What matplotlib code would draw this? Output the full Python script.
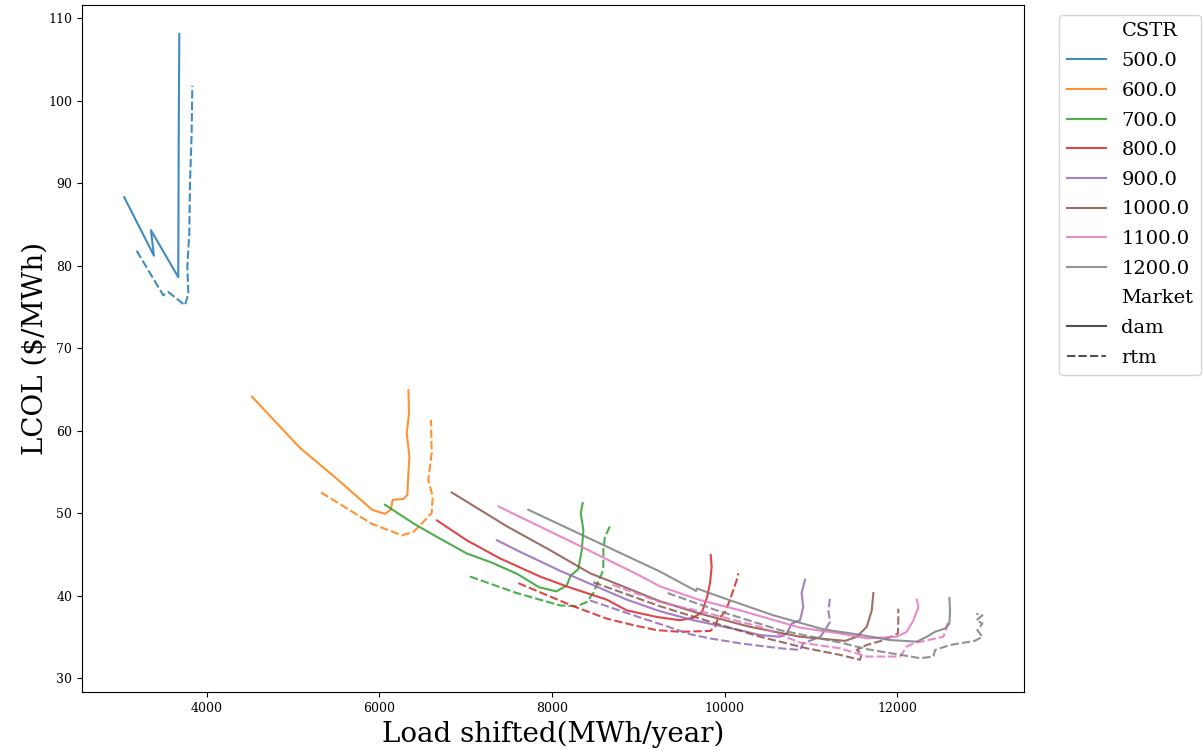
import matplotlib
matplotlib.use('Agg')
import matplotlib.pyplot as plt
from matplotlib.lines import Line2D

plt.rcParams['font.family'] = 'DejaVu Serif'

cstr = [500.0, 600.0, 700.0, 800.0, 900.0, 1000.0, 1100.0, 1200.0]
colors = ['#1f77b4', '#ff7f0e', '#2ca02c', '#d62728', '#9467bd', '#8c564b', '#e377c2', '#7f7f7f']

# day-ahead market (dam)
x_500_dam = [3040, 3385, 3350, 3667, 3672, 3679]
y_500_dam = [88.3, 81.2, 84.3, 78.6, 95.0, 108.1]
x_600_dam = [4522, 5078, 5500, 5913, 6064, 6130, 6153, 6277, 6323, 6335, 6347, 6316, 6342, 6335]
y_600_dam = [64.1, 57.9, 54.2, 50.4, 49.9, 50.4, 51.6, 51.7, 52.2, 54.8, 56.8, 59.7, 62.1, 64.9]
x_700_dam = [6064, 6400, 6650, 7011, 7300, 7600, 7850, 8050, 8170, 8215, 8305, 8345, 8364, 8333, 8356]
y_700_dam = [51.0, 48.7, 47.2, 45.1, 44.0, 42.6, 41.0, 40.5, 41.2, 42.4, 43.2, 45.5, 47.9, 50.0, 51.2]
x_800_dam = [6667, 7011, 7397, 7861, 8171, 8634, 8866, 9214, 9484, 9638, 9740, 9800, 9832, 9851, 9840]
y_800_dam = [49.1, 46.7, 44.5, 42.3, 41.1, 39.5, 38.2, 37.4, 37.0, 37.3, 38.0, 39.9, 41.5, 43.5, 44.9]
x_900_dam = [7362, 7629, 8093, 8557, 8866, 9250, 9638, 10180, 10412, 10644, 10721, 10780, 10875, 10913, 10894, 10933]
y_900_dam = [46.7, 45.3, 43.0, 40.9, 39.5, 38.1, 37.0, 35.8, 35.2, 35.0, 35.4, 36.6, 37.0, 38.6, 40.3, 41.9]
x_1000_dam = [6837, 7475, 7977, 8441, 8634, 9252, 9716, 10296, 10875, 11400, 11533, 11649, 11707, 11726]
y_1000_dam = [52.5, 48.4, 45.5, 42.7, 41.9, 39.3, 37.8, 36.2, 35.0, 34.5, 35.0, 36.2, 38.2, 40.3]
x_1100_dam = [7378, 8247, 9020, 9252, 9700, 10180, 10875, 11339, 11649, 11996, 12112, 12190, 12248, 12229]
y_1100_dam = [50.8, 46.4, 42.4, 41.1, 39.5, 38.2, 36.1, 35.4, 34.8, 35.0, 35.6, 37.0, 38.6, 39.5]
x_1200_dam = [7725, 9252, 9670, 9680, 9987, 10566, 11146, 11533, 11919, 12229, 12345, 12441, 12557, 12607, 12615, 12607]
y_1200_dam = [50.4, 42.9, 40.55, 40.85, 39.7, 37.6, 35.9, 35.3, 34.6, 34.4, 35.0, 35.6, 36.0, 36.6, 38.2, 39.7]

# real-time market (rtm)
x_500_rtm = [3185, 3493, 3551, 3745, 3784, 3772, 3795, 3803, 3822, 3830]
y_500_rtm = [81.8, 76.4, 76.8, 75.2, 76.6, 79.9, 83.9, 90.0, 96.0, 101.8]
x_600_rtm = [5322, 5910, 6258, 6392, 6470, 6605, 6617, 6566, 6605, 6597]
y_600_rtm = [52.5, 48.7, 47.3, 47.7, 48.5, 50.0, 52.0, 54.0, 57.3, 61.3]
x_700_rtm = [7049, 7591, 8093, 8286, 8402, 8479, 8595, 8595, 8614, 8672]
y_700_rtm = [42.3, 40.3, 38.8, 38.7, 39.2, 40.3, 43.1, 45.5, 47.1, 48.4]
x_800_rtm = [7609, 8247, 8634, 8944, 9214, 9484, 9832, 9890, 9916, 10006, 10064, 10103, 10142, 10160]
y_800_rtm = [41.5, 38.7, 37.2, 36.4, 35.8, 35.6, 35.7, 36.2, 37.0, 38.0, 39.5, 40.7, 41.9, 42.7]
x_900_rtm = [8440, 8750, 9058, 9350, 9600, 9832, 10180, 10644, 10875, 10913, 11110, 11165, 11223, 11204, 11223]
y_900_rtm = [39.4, 38.3, 37.2, 36.2, 35.3, 34.8, 34.2, 33.6, 33.4, 34.2, 35.0, 35.8, 36.8, 38.2, 39.7]
x_1000_rtm = [8479, 9252, 9900, 10412, 10953, 11339, 11571, 11590, 11533, 11649, 11850, 12010, 12015, 12015]
y_1000_rtm = [41.6, 38.7, 36.6, 35.0, 33.6, 32.8, 32.2, 32.9, 33.4, 34.0, 34.6, 35.4, 37.0, 38.4]
x_1100_rtm = [8700, 9252, 9754, 10412, 10875, 11339, 11649, 12035, 12112, 12190, 12538, 12577, 12597]
y_1100_rtm = [41.3, 39.2, 38.0, 36.2, 34.3, 33.6, 32.6, 32.6, 33.8, 34.2, 35.0, 36.2, 37.0]
x_1200_rtm = [9340, 9909, 10644, 11339, 11649, 12268, 12422, 12441, 12615, 12900, 12990, 12930, 12990, 12920, 12990, 12920]
y_1200_rtm = [40.3, 38.2, 35.8, 34.3, 33.5, 32.4, 32.6, 33.4, 34.0, 34.5, 35.0, 35.8, 36.6, 37.0, 37.6, 37.8]

dam_x = [x_500_dam, x_600_dam, x_700_dam, x_800_dam, x_900_dam, x_1000_dam, x_1100_dam, x_1200_dam]
dam_y = [y_500_dam, y_600_dam, y_700_dam, y_800_dam, y_900_dam, y_1000_dam, y_1100_dam, y_1200_dam]
rtm_x = [x_500_rtm, x_600_rtm, x_700_rtm, x_800_rtm, x_900_rtm, x_1000_rtm, x_1100_rtm, x_1200_rtm]
rtm_y = [y_500_rtm, y_600_rtm, y_700_rtm, y_800_rtm, y_900_rtm, y_1000_rtm, y_1100_rtm, y_1200_rtm]

fig = plt.figure(figsize=(12.03, 7.5), dpi=100)
ax = fig.add_axes([82 / 1203, 58 / 750, 942 / 1203, 687 / 750])

alpha = 0.85
for i in range(len(cstr)):
    ax.plot(dam_x[i], dam_y[i], color=colors[i], lw=1.5, alpha=alpha)
    ax.plot(rtm_x[i], rtm_y[i], color=colors[i], lw=1.5, alpha=alpha, dashes=(4, 1.5))

ax.set_xlim(2551, 13472)
ax.set_ylim(28.3, 111.6)
ax.set_xticks([4000, 6000, 8000, 10000, 12000])
ax.set_yticks(range(30, 111, 10))
ax.tick_params(labelsize=9)
ax.set_xlabel("Load shifted(MWh/year)", fontsize=20)
ax.set_ylabel("LCOL ($/MWh)", fontsize=20, labelpad=0)

handles = [Line2D([], [], linestyle='none', label='CSTR')]
for c, col in zip(cstr, colors):
    handles.append(Line2D([], [], color=col, lw=1.5, alpha=alpha, label=str(c)))
handles.append(Line2D([], [], linestyle='none', label='Market'))
handles.append(Line2D([], [], color='.2', lw=1.5, alpha=alpha, label='dam'))
handles.append(Line2D([], [], color='.2', lw=1.5, alpha=alpha, dashes=(4, 1.5), label='rtm'))
ax.legend(handles=handles, loc='upper left', bbox_to_anchor=(1.027, 1), fontsize=14,
          labelspacing=0.6)

fig.savefig('out.png', dpi=100)
